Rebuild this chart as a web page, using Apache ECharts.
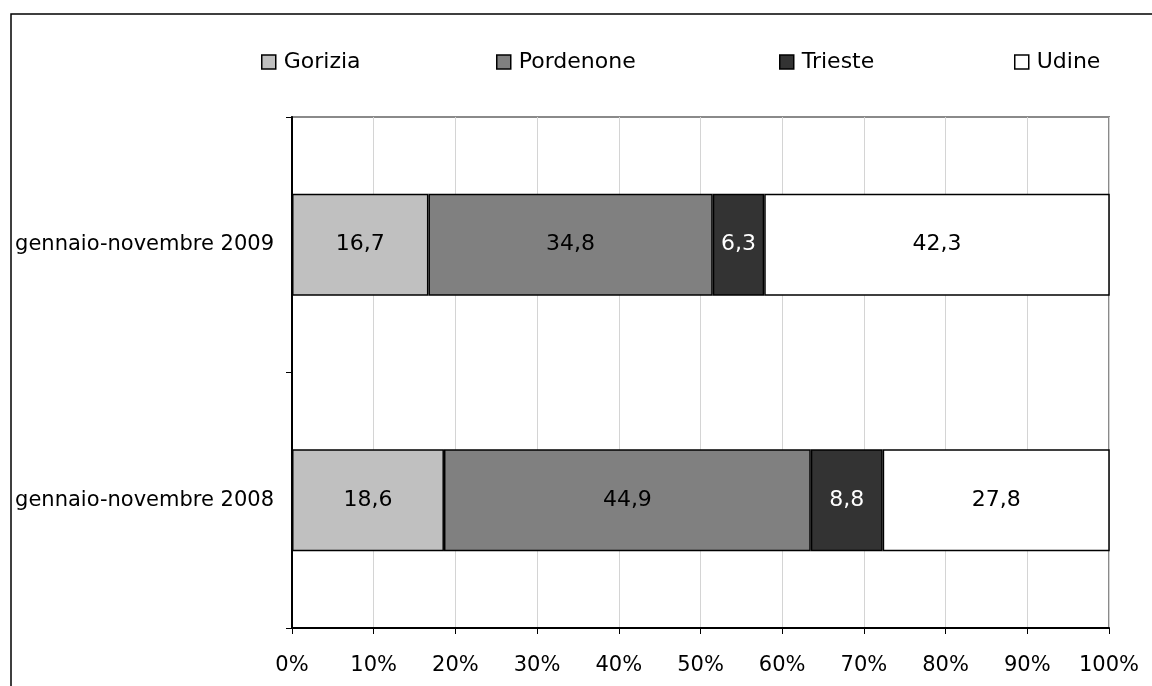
<!DOCTYPE html>
<html>
<head>
<meta charset="utf-8">
<script src="https://cdn.jsdelivr.net/npm/echarts@6/dist/echarts.min.js"></script>
<style>
  html, body { margin: 0; padding: 0; background: #fff; }
  #chart { width: 1152px; height: 686px; }
</style>
</head>
<body>
<div id="chart"></div>
<script>
// Periods, bottom to top
const periods = ['gennaio-novembre 2008', 'gennaio-novembre 2009'];
// Provinces (stack order, left to right)
const provinces = ['Gorizia', 'Pordenone', 'Trieste', 'Udine'];
// Percentage shares per province, one value per period
const gorizia = [18.6, 16.7];
const pordenone = [44.9, 34.8];
const trieste = [8.8, 6.3];
const udine = [27.8, 42.3];
// Axis ticks
const xTicks = [0, 10, 20, 30, 40, 50, 60, 70, 80, 90, 100];

const FONT = '"DejaVu Sans", sans-serif';
const fills = ['#c0c0c0', '#808080', '#333333', '#ffffff'];
const labelColors = ['#000', '#000', '#fff', '#000'];
const values = [gorizia, pordenone, trieste, udine];

const chart = echarts.init(document.getElementById('chart'), null, { renderer: 'canvas' });

// One legend block per province so each entry sits at its own spot
const legendLefts = [256, 491, 774, 1009];
const legends = provinces.map((p, i) => ({
  data: [p],
  left: legendLefts[i],
  top: 46,
  itemWidth: 14,
  itemHeight: 14,
  itemGap: 0,
  icon: 'rect',
  textStyle: { fontFamily: FONT, fontSize: 22, color: '#000', padding: [0, 0, 0, 3] },
  itemStyle: { borderColor: '#000', borderWidth: 1.5 }
}));

chart.setOption({
  animation: false,
  backgroundColor: '#fff',
  textStyle: { fontFamily: FONT },
  legend: legends,
  grid: {
    left: 292, top: 117, right: 43, bottom: 58,
    show: true, borderColor: '#8a8a8a', borderWidth: 2, backgroundColor: 'transparent'
  },
  xAxis: {
    type: 'value',
    min: xTicks[0],
    max: xTicks[xTicks.length - 1],
    interval: xTicks[1] - xTicks[0],
    axisLine: { show: true, lineStyle: { color: '#000', width: 2 } },
    axisTick: { show: true, length: 6, lineStyle: { color: '#000', width: 1 } },
    splitLine: { show: true, lineStyle: { color: '#d4d4d4', width: 1 } },
    axisLabel: {
      formatter: '{value}%', fontFamily: FONT, fontSize: 21, color: '#000', margin: 27
    }
  },
  yAxis: {
    type: 'category',
    data: periods,
    axisLine: { show: true, lineStyle: { color: '#000', width: 2 } },
    axisTick: { show: true, length: 6, lineStyle: { color: '#000', width: 1 } },
    axisLabel: { fontFamily: FONT, fontSize: 21, color: '#000', margin: 18 }
  },
  series: provinces.map((p, i) => ({
    name: p,
    type: 'bar',
    stack: 'total',
    barWidth: 102,
    data: values[i],
    itemStyle: { color: fills[i], borderColor: '#000', borderWidth: 1.5 },
    label: {
      show: true,
      position: 'inside',
      fontFamily: FONT,
      fontSize: 22,
      color: labelColors[i],
      formatter: (d) => d.value.toFixed(1).replace('.', ',')
    }
  })),
  graphic: [{
    type: 'rect',
    shape: { x: 11, y: 14, width: 1300, height: 800 },
    style: { fill: 'none', stroke: '#000', lineWidth: 1.5 },
    silent: true
  }]
});
</script>
</body>
</html>
